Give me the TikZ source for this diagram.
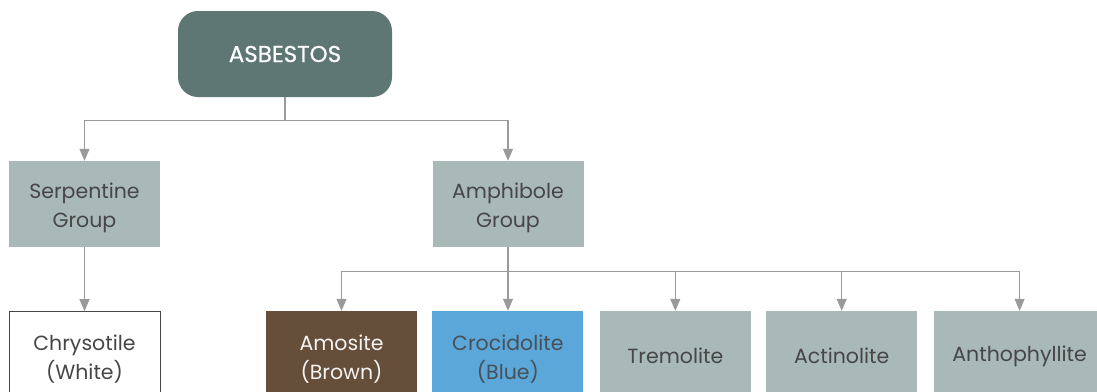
\documentclass[tikz,border=0pt]{standalone}
\usepackage{fontspec}
\setmainfont{Poppins}
\usetikzlibrary{positioning, arrows.meta, calc}
\definecolor{slate}{HTML}{5E7674}
\definecolor{sage}{HTML}{A9B9B8}
\definecolor{amosbrown}{HTML}{654F3B}
\definecolor{crocblue}{HTML}{5BA7DA}
\definecolor{linegray}{HTML}{9A9A9C}
\definecolor{textgray}{HTML}{464646}

\begin{document}
\begin{tikzpicture}[
    x=1pt, y=1pt,
    root/.style={rectangle, rounded corners=20pt, minimum width=214pt, minimum height=86pt, text centered, fill=slate, text=white, font=\fontsize{23}{27}\selectfont\addfontfeature{FakeBold=0.6}},
    group/.style={rectangle, minimum width=151pt, minimum height=86pt, text centered, align=center, fill=sage, text=textgray, font=\fontsize{20.5}{29}\selectfont},
    twoline/.style={text height=46pt, text depth=0pt},
    mineral/.style={group, minimum height=90pt},
    arrow/.style={line width=1.1pt, draw=linegray, -{Triangle[width=10pt, length=12pt]}, color=linegray},
]
\useasboundingbox (0,0) rectangle (1097,-391);
\clip (0,0) rectangle (1097,-391);

% Top
\node[root] (asbestos) at (285,-54) {ASBESTOS};
\node[group, twoline] (serpentine) at (84.5,-204) {Serpentine\\Group};
\node[group, twoline] (amphibole) at (508,-204) {Amphibole\\Group};

% Bottom row
\node[mineral, twoline, fill=white, draw=textgray, line width=0.8pt, below=64pt of serpentine] (chrysotile) {Chrysotile\\(White)};
\node[mineral, twoline, fill=amosbrown, text={white!93!amosbrown}] (amosite) at (341.5,-356) {Amosite\\(Brown)};
\node[mineral, twoline, fill=crocblue, text={textgray!90!crocblue}, right=15pt of amosite] (crocidolite) {Crocidolite\\(Blue)};
\node[mineral, right=16pt of crocidolite] (tremolite) {Tremolite};
\node[mineral, right=15pt of tremolite] (actinolite) {Actinolite};
\node[mineral, minimum width=172pt, right=16pt of actinolite] (anthophyllite) {Anthophyllite};

% Arrows from the root
\coordinate (split) at ($(asbestos.south)+(0,-23)$);
\draw[line width=1.1pt, linegray] (asbestos.south) -- (split);
\draw[arrow] (split) -| (serpentine.north);
\draw[arrow] (split) -| (amphibole.north);

% Serpentine
\draw[arrow] (serpentine) -- (chrysotile);

% Amphibole
\coordinate (fork) at ($(amphibole.south)+(0,-24)$);
\draw[arrow] (amphibole.south) -- (amphibole.south |- crocidolite.north);
\draw[arrow] (fork) -| (amosite.north);
\draw[arrow] (fork) -| (tremolite.north);
\draw[arrow] (fork) -| (actinolite.north);
\draw[arrow] (fork) -| (anthophyllite.north);

\end{tikzpicture}
\end{document}
